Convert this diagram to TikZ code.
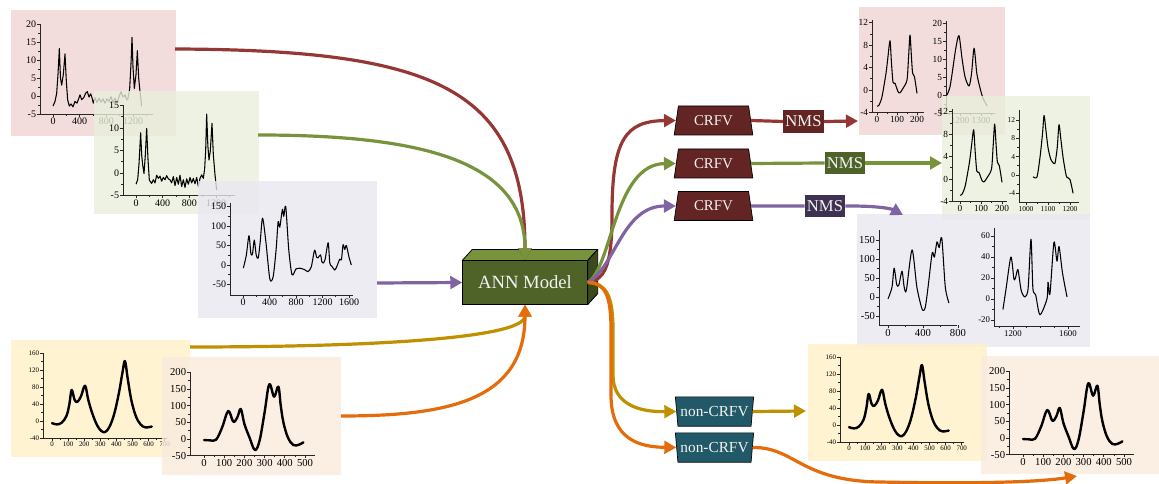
\documentclass[tikz,border=0pt]{standalone}
\usepackage{fontspec}
\setmainfont{Liberation Serif}
\usetikzlibrary{arrows.meta,shapes.geometric,calc}

% panel fills (drawn semi-transparent, so overlaps blend)
\definecolor{panelred}{RGB}{239,213,211}
\definecolor{panelgreen}{RGB}{232,239,220}
\definecolor{panelpurple}{RGB}{234,231,240}
\definecolor{panelyellow}{RGB}{255,240,199}
\definecolor{panelpeach}{RGB}{250,235,221}
% flow colours
\definecolor{cred}{HTML}{953735}
\definecolor{cgreen}{HTML}{77933C}
\definecolor{cpurple}{HTML}{8064A2}
\definecolor{cgold}{HTML}{BF9000}
\definecolor{corange}{HTML}{E46C0A}
% block colours
\definecolor{crfvfill}{HTML}{632523}
\definecolor{nmsgreen}{HTML}{4F6228}
\definecolor{nmspurple}{HTML}{3F3151}
\definecolor{noncrfvfill}{HTML}{215968}
\definecolor{annfront}{HTML}{4F6228}
\definecolor{anntop}{HTML}{77933C}
\definecolor{annside}{HTML}{3A4A1D}

\tikzset{
  panel/.style={fill opacity=0.8},
  axisline/.style={line width=0.55pt, draw=black!85},
  ticklbl/.style={font=\fontsize{7.5}{8}\selectfont},
  thincurve/.style={line width=0.8pt, line join=round},
  thickcurve/.style={line width=1.8pt, line join=round, line cap=round},
  flow/.style={line width=2.4pt, -{Triangle[length=9pt,width=9.5pt]}},
  crfvbox/.style={trapezium, trapezium left angle=77, trapezium right angle=77,
    trapezium stretches=true, minimum width=59pt, minimum height=21.75pt,
    inner sep=0pt, fill=crfvfill, draw=black, line width=0.5pt,
    text=white!95!black, font=\fontsize{11.2}{12}\selectfont},
  noncrfvbox/.style={trapezium, trapezium left angle=103, trapezium right angle=103,
    trapezium stretches=true, minimum width=59pt, minimum height=22pt,
    inner sep=0pt, fill=noncrfvfill, draw=black, line width=0.5pt,
    text=white!95!black, font=\fontsize{11.5}{12}\selectfont},
  nmsbox/.style={rectangle, inner xsep=1.6pt, inner ysep=0pt, minimum height=17pt,
    text=white!95!black, font=\fontsize{12.5}{13}\selectfont},
  annbox/.style={rectangle, minimum width=93.5pt, minimum height=32.5pt,
    fill=annfront, draw=black, line width=0.6pt, text=white!95!black,
    font=\fontsize{14}{16}\selectfont},
  boxedge/.style={draw=black, line width=0.6pt, line join=round},
}

% y axis: #1 x position, #2 bottom, #3 top, #4 labelled ticks, #5 minor ticks
\newcommand\yax[5]{%
  \draw[axisline] (#1,#3) -- (#1,#2);
  \foreach \v in {#4} \draw[axisline] (#1,\v) -- ++(-2pt,0) node[left=0.3pt, inner sep=0.4pt, ticklbl] {\v};
  \foreach \v in {#5} \draw[axisline] (#1,\v) -- ++(-1.2pt,0);
}
% x axis: #1 y position, #2 left, #3 right, #4 labelled ticks, #5 minor ticks
\newcommand\xax[5]{%
  \draw[axisline] (#2,#1) -- (#3,#1);
  \foreach \v in {#4} \draw[axisline] (\v,#1) -- ++(0,-2pt) node[below=0.3pt, inner sep=0.4pt, ticklbl] {\v};
  \foreach \v in {#5} \draw[axisline] (\v,#1) -- ++(0,-1.2pt);
}

% two-peak smooth spectra, used on both sides
\newcommand\yellowplot{%
  \yax{-56}{-40}{160}{-40,0,40,80,120,160}{-20,20,60,100,140}
  \xax{-40}{-56}{714}{0,100,200,300,400,500,600,700}{50,150,250,350,450,550,650}
  \draw[thickcurve] plot[smooth, tension=0.6] coordinates {(0,-5) (30,-8) (60,-4) (90,12) (108,40) (122,73) (140,50) (157,45) (180,58) (205,83) (225,50) (250,18) (280,-10) (305,-23) (329,-26) (355,-15) (385,15) (415,65) (438,115) (453,141) (470,100) (492,50) (520,12) (550,-8) (580,-15) (619,-13)};
}
\newcommand\peachplot{%
  \yax{-69}{-50}{200}{-50,0,50,100,150,200}{-25,25,75,125,175}
  \xax{-50}{-69}{550}{0,100,200,300,400,500}{50,150,250,350,450}
  \draw[thickcurve] plot[smooth, tension=0.6] coordinates {(0,-3) (30,-4) (60,-2) (90,35) (120,84) (145,52) (165,65) (182,90) (200,45) (225,5) (252,-33) (275,-5) (300,80) (323,164) (347,127) (368,157) (380,100) (393,50) (415,5) (442,-18) (470,-17) (492,-10)};
}
% single-peak-pair spectrum (0 to 200)
\newcommand\pairplot{%
  \draw[thincurve] plot[smooth, tension=0.45] coordinates {(0,-2.9) (10,-2.7) (25,-1.2) (45,3) (55,6) (65,8.8) (72,5) (80,1.4) (90,1.2) (105,-0.3) (115,-0.5) (130,0.3) (150,1.8) (158,6) (165,9.8) (172,6) (178,3) (187,2.4) (200,-0.6)};
}

\begin{document}
\begin{tikzpicture}[x=0.75pt, y=-0.75pt]
\useasboundingbox (0,0) rectangle (1159,484);

% ---------------- input spectra ----------------
\fill[panel, panelred] (11,10) rectangle (176,136);
\begin{scope}[shift={(53,96)}, x=0.05pt, y=2.7pt]
  \yax{-195}{-5}{20}{-5,0,5,10,15,20}{-2.5,2.5,7.5,12.5,17.5}
  \xax{-5}{-195}{1500}{0,400,800,1200}{200,600,1000,1400}
  \draw[thincurve] plot coordinates {(0,-2.8) (30,-1.5) (55,0.7) (75,6) (95,13.2) (112,5) (130,3) (155,6) (180,11.7) (200,4) (220,-1.1) (245,-2.8) (270,-2.2) (300,-3) (330,-1.5) (360,-2) (390,-0.5) (405,0.3) (430,-1) (460,-0.5) (490,0.8) (515,1.2) (540,-0.3) (565,0.6) (585,-0.5) (605,-2) (630,-0.5) (660,-1.8) (690,-0.6) (720,-1.7) (750,-0.8) (780,-2) (810,-0.8) (840,-1.5) (870,-0.2) (900,-1.8) (930,-0.6) (960,-2.2) (990,-0.2) (1020,1.2) (1050,-0.3) (1080,0.3) (1100,-0.8) (1120,-1.1) (1150,2) (1170,9) (1185,16.3) (1200,8) (1220,2.1) (1245,6) (1265,12.6) (1285,5) (1305,1.2) (1330,-2.9)};
\end{scope}

\fill[panel, panelgreen] (94,91) rectangle (259,214);
\begin{scope}[shift={(136,173)}, x=0.05pt, y=3.375pt]
  \yax{-195}{-5}{15}{-5,0,5,10,15}{-2.5,2.5,7.5,12.5}
  \xax{-5}{-195}{1485}{0,400,800,1200}{200,600,1000,1400}
  \draw[thincurve] plot coordinates {(0,-2.5) (25,-1.5) (45,2) (70,8.95) (85,4) (100,1.8) (120,-0.1) (140,4) (160,9.9) (180,3) (200,-1.6) (235,-2.3) (260,-1.5) (285,-2.2) (310,-0.5) (335,-1.2) (360,-0.7) (385,-1.8) (410,-1) (435,-1.5) (460,-0.6) (485,-1.3) (510,-1.5) (535,-2.2) (560,-0.8) (585,-2.8) (610,-1) (635,-2.5) (660,-0.5) (685,-3) (710,-1.5) (735,-3.2) (760,-1.3) (785,-2.5) (810,-1) (835,-2.2) (860,-1.2) (885,-2.4) (910,-1) (935,-3) (960,-1.2) (985,-0.4) (1010,-1.2) (1030,1) (1045,5) (1060,13.1) (1078,6) (1095,2.9) (1115,5) (1140,11) (1160,4) (1185,-0.4) (1210,-3.8)};
\end{scope}

\fill[panel, panelpurple] (198,181) rectangle (377,318);
\begin{scope}[shift={(243,265)}, x=0.0497pt, y=0.2925pt]
  \yax{-196}{-77}{160}{-50,0,50,100,150}{-25,25,75,125}
  \xax{-77}{-196}{1660}{0,400,800,1200,1600}{200,600,1000,1400}
  \draw[thincurve] plot[smooth, tension=0.45] coordinates {(5,-8) (50,25) (90,75) (120,28) (145,30) (170,64) (200,25) (230,18) (260,60) (295,120) (345,60) (405,-36) (455,-30) (500,40) (530,111) (555,97) (595,143) (615,125) (645,150) (690,40) (740,-25) (800,-10) (855,-8) (930,-12) (980,-17) (1030,-5) (1080,38) (1110,20) (1130,18) (1170,26) (1190,8) (1210,5) (1240,15) (1285,57) (1310,5) (1340,-3) (1385,-13) (1420,-2) (1460,15) (1485,13) (1510,52) (1535,40) (1560,50) (1600,20) (1635,0)};
\end{scope}

\fill[panel, panelyellow] (11,340) rectangle (190,457);
\begin{scope}[shift={(52,421)}, x=0.1208pt, y=0.319pt, ticklbl/.style={font=\fontsize{5.2}{6}\selectfont}]
  \yellowplot
\end{scope}

\fill[panel, panelpeach] (162,357) rectangle (341,475);
\begin{scope}[shift={(204,439)}, x=0.1515pt, y=0.25pt, ticklbl/.style={font=\fontsize{8}{9}\selectfont}]
  \peachplot
\end{scope}

% ---------------- output spectra ----------------
\fill[panel, panelred] (859,7) rectangle (1005,135);
\begin{scope}[shift={(877,90)}, x=0.15pt, y=4.2pt, ticklbl/.style={font=\fontsize{7}{8}\selectfont}]
  \yax{-25}{-4}{12.5}{-4,0,4,8,12}{-2,2,6,10}
  \xax{-4}{-25}{235}{0,100,200}{50,150}
  \pairplot
\end{scope}
\begin{scope}[shift={(708,95)}, x=0.1575pt, y=2.7pt, ticklbl/.style={font=\fontsize{7}{8}\selectfont}]
  \yax{1133}{-5}{20.5}{-5,0,5,10,15,20}{-2.5,2.5,7.5,12.5,17.5}
  \xax{-5}{1133}{1367}{1200,1300}{1150,1250,1350}
  \draw[thincurve] plot[smooth, tension=0.45] coordinates {(1138,0) (1152,2.2) (1165,7) (1180,13) (1195,16.5) (1210,10) (1224,5) (1243,2.5) (1255,6) (1267,13) (1280,6) (1295,2) (1310,-1) (1329,-3)};
\end{scope}

\fill[panel, panelgreen] (942,96) rectangle (1090,220);
\begin{scope}[shift={(960,179)}, x=0.1575pt, y=4.2pt, ticklbl/.style={font=\fontsize{7}{8}\selectfont}]
  \yax{-38}{-4}{12.5}{-4,0,4,8,12}{-2,2,6,10}
  \xax{-4}{-38}{224}{0,100,200}{50,150}
  \pairplot
\end{scope}
\begin{scope}[shift={(806,175)}, x=0.165pt, y=3.435pt, ticklbl/.style={font=\fontsize{5.6}{6}\selectfont}]
  \yax{968}{-6}{14.2}{-4,0,4,8,12}{-2,2,6,10}
  \xax{-6}{968}{1241}{1000,1100,1200}{1050,1150}
  \draw[thincurve] plot[smooth, tension=0.45] coordinates {(1032,-0.4) (1050,-0.4) (1064,4) (1075,9) (1082,13) (1090,10) (1100,6) (1112,3.5) (1123,2.7) (1132,2.6) (1142,6) (1150,11) (1158,8) (1168,4) (1180,0.5) (1186,-0.5) (1200,-1) (1214,-4)};
\end{scope}

\fill[panel, panelpurple] (857,214) rectangle (1090,347);
\begin{scope}[shift={(888,297)}, x=0.0656pt, y=0.285pt, ticklbl/.style={font=\fontsize{8}{9}\selectfont}]
  \yax{-103}{-74}{176}{-50,0,50,100,150}{-25,25,75,125}
  \xax{-74}{-103}{789}{0,400,800}{200,600}
  \draw[thincurve] plot[smooth, tension=0.45] coordinates {(0,-5) (46,26) (70,76) (100,32) (125,32) (160,68) (185,26) (210,18) (275,124) (330,26) (390,-32) (425,-28) (460,30) (505,116) (530,105) (560,145) (585,130) (615,155) (655,26) (697,-16)};
\end{scope}
\begin{scope}[shift={(848,299)}, x=0.1031pt, y=0.7875pt, ticklbl/.style={font=\fontsize{6.6}{7}\selectfont}]
  \yax{1062}{-26}{68}{-20,0,20,40,60}{-10,10,30,50}
  \xax{-26}{1062}{1687}{1200,1600}{1100,1300,1400,1500}
  \draw[thincurve] plot[smooth, tension=0.45] coordinates {(1127,-10) (1150,10) (1185,40) (1207,19) (1220,21) (1236,28) (1260,8) (1287,2) (1310,10) (1331,57) (1345,10) (1365,4) (1396,-15) (1447,0) (1455,16) (1469,5) (1498,54) (1520,36) (1535,50) (1560,25) (1593,2)};
\end{scope}

\fill[panel, panelyellow] (808,344) rectangle (987,461);
\begin{scope}[shift={(849,425)}, x=0.1208pt, y=0.319pt, ticklbl/.style={font=\fontsize{5.2}{6}\selectfont}]
  \yellowplot
\end{scope}

\fill[panel, panelpeach] (981,356) rectangle (1160,474);
\begin{scope}[shift={(1023,438)}, x=0.1515pt, y=0.25pt, ticklbl/.style={font=\fontsize{8}{9}\selectfont}]
  \peachplot
\end{scope}

% ---------------- model block ----------------
\node[annbox] (ann) at (525,282.5) {ANN Model};
\draw[boxedge, fill=anntop] (ann.north west) -- ++(7.5pt,8.25pt) -- ($(ann.north east)+(7.5pt,8.25pt)$) -- (ann.north east) -- cycle;
\draw[boxedge, fill=annside] (ann.north east) -- ++(7.5pt,8.25pt) -- ($(ann.south east)+(7.5pt,8.25pt)$) -- (ann.south east) -- cycle;

% ---------------- filters ----------------
\node[crfvbox] (c1) at (713.5,120.5) {CRFV};
\node[crfvbox] (c2) at (713.5,163.5) {CRFV};
\node[crfvbox] (c3) at (713.5,206) {CRFV};
\node[noncrfvbox] (nc1) at (714.5,411.5) {non-CRFV};
\node[noncrfvbox] (nc2) at (714.5,447.5) {non-CRFV};

\node[nmsbox, fill=crfvfill] (nm1) at (803.5,121.5) {NMS};
\node[nmsbox, fill=nmsgreen] (nm2) at (845,163) {NMS};
\node[nmsbox, fill=nmspurple] (nm3) at (825,206) {NMS};

% ---------------- connector ends ----------------
\coordinate (aout) at (175,49);
\coordinate (bout) at (258,135);
\coordinate (cout) at (377,283);
\coordinate (dout) at (190,347);
\coordinate (eout) at (341,416);
\coordinate (rtA) at (858,121);
\coordinate (rtB) at (942,163);
\coordinate (rtC) at (903,215);
\coordinate (rtD) at (806,411);
\coordinate (rtE) at (1077,476);

% inputs into the model
\draw[flow, cred] (aout) .. controls (435,50) and (525,88) .. (ann.north);
\draw[flow, cgreen] (bout) .. controls (420,135) and (525,160) .. (ann.north);
\draw[flow, cpurple] (cout) -- (ann.west);
\draw[flow, cgold] (dout) .. controls (350,347) and (525,340) .. (ann.south);
\draw[flow, corange] (eout) .. controls (450,416) and (525,400) .. (ann.south);

% model outputs
\draw[flow, cred] (ann.east) .. controls (606,280) and (612,262) .. (612,215) .. controls (612,140) and (625,121) .. (c1.west);
\draw[flow, cgreen] (ann.east) .. controls (612,268) and (614,164) .. (c2.west);
\draw[flow, cpurple] (ann.east) .. controls (615,268) and (622,206) .. (c3.west);
\draw[flow, cgold] (ann.east) .. controls (606,283) and (613,295) .. (613,330) -- (613,375) .. controls (613,405) and (640,412) .. (nc1.west);
\draw[flow, corange] (ann.east) .. controls (605,283) and (611,295) .. (611,330) -- (611,395) .. controls (611,440) and (640,447) .. (nc2.west);

% filter outputs
\draw[line width=2.4pt, cred] (c1.east) -- (nm1.west);
\draw[flow, cred] (nm1.east) -- (rtA);
\draw[line width=2.4pt, cgreen] (c2.east) -- (nm2.west);
\draw[flow, cgreen] (nm2.east) -- (rtB);
\draw[line width=2.4pt, cpurple] (c3.east) -- (nm3.west);
\draw[flow, cpurple] (nm3.east) -- (850,206) .. controls (880,206) and (892,209) .. (rtC);
\draw[flow, cgold] (nc1.east) -- (rtD);
\draw[flow, corange] (nc2.east) .. controls (795,447) and (800,481) .. (880,482) .. controls (980,484) and (1040,482) .. (rtE);
\end{tikzpicture}
\end{document}
